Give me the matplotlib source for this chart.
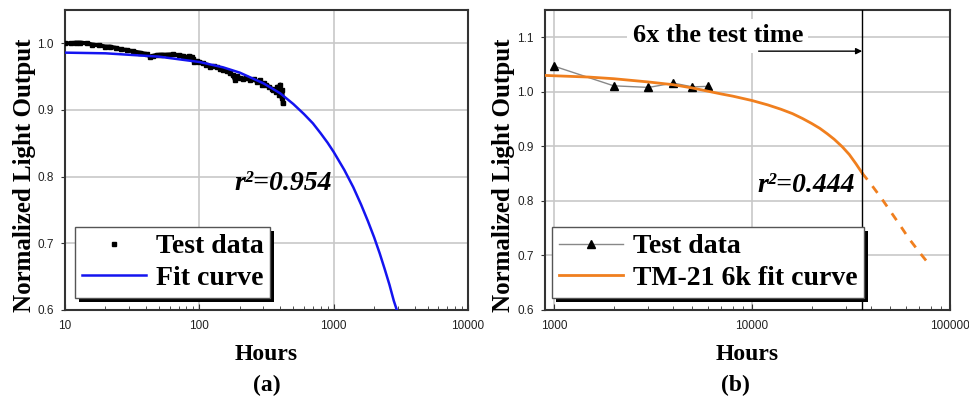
import matplotlib
matplotlib.use("Agg")
import matplotlib.pyplot as plt
from matplotlib.patches import Rectangle

# panel (a): LED test data and fit
a_test_hours = [10, 11, 12, 13, 14.5, 16, 18, 20, 21.6, 24, 26, 28.8, 32, 36, 40.5, 43, 45, 48,
                52, 58, 64, 70, 76, 80.5, 84, 86, 88, 90, 92, 96, 100, 107, 113, 120, 128,
                136, 142, 150, 160, 170, 178, 184, 190, 200, 212, 224, 240, 255, 270, 281,
                295, 305, 316, 330, 345, 355, 370, 380, 387, 395, 400, 405, 410, 414, 418]
a_test_output = [1.0, 1.0, 1.001, 1.001, 1.0, 0.998, 0.997, 0.995, 0.995, 0.993, 0.991, 0.99,
                 0.988, 0.986, 0.984, 0.98, 0.981, 0.9825, 0.983, 0.983, 0.9835, 0.982, 0.981,
                 0.979, 0.981, 0.978, 0.98, 0.976, 0.9725, 0.973, 0.972, 0.970, 0.968, 0.965,
                 0.966, 0.964, 0.962, 0.960, 0.958, 0.955, 0.952, 0.945, 0.951, 0.948, 0.947,
                 0.9475, 0.945, 0.946, 0.942, 0.945, 0.938, 0.940, 0.937, 0.935, 0.932, 0.930,
                 0.927, 0.934, 0.935, 0.922, 0.938, 0.925, 0.918, 0.93, 0.91]
a_fit_hours = [10, 20, 50, 100, 150, 200, 300, 400, 500, 600, 700, 800, 900, 1000, 1200,
               1400, 1600, 1800, 2000, 2200, 2400, 2600, 2800, 2950]
a_fit_output = [0.986, 0.985, 0.980, 0.972, 0.964, 0.956, 0.940, 0.925, 0.909, 0.894, 0.880,
                0.865, 0.851, 0.837, 0.810, 0.784, 0.758, 0.733, 0.709, 0.685, 0.661, 0.638,
                0.614, 0.600]

# panel (b): TM-21 projection
b_test_hours = [1000, 2000, 3000, 4000, 5000, 6000]
b_test_output = [1.047, 1.011, 1.008, 1.016, 1.009, 1.010]
b_fit_hours = [900, 1500, 2000, 3000, 4000, 5000, 6000, 7000, 8000, 10000, 12000, 14000,
               16000, 18000, 20000, 22000, 24000, 26000, 28600, 31000, 33500, 36000]
b_fit_output = [1.030, 1.027, 1.024, 1.018, 1.013, 1.007, 1.001, 0.996, 0.992, 0.984, 0.976,
                0.968, 0.960, 0.951, 0.942, 0.933, 0.923, 0.913, 0.899, 0.885, 0.868, 0.851]
b_proj_hours = [36000, 40000, 45000, 50000, 56000, 62000, 70000, 78700]
b_proj_output = [0.851, 0.830, 0.805, 0.781, 0.755, 0.731, 0.706, 0.683]
limit_hours = 36000

serif = "Liberation Serif"
sans = "Liberation Sans"

fig = plt.figure(figsize=(9.69, 3.99), dpi=100)
ax1 = fig.add_axes([0.0671, 0.2231, 0.4159, 0.7519])
ax2 = fig.add_axes([0.5624, 0.2231, 0.418, 0.7519])
ax1.set_xscale("log")
ax2.set_xscale("log")


def style(ax):
    ax.grid(True, which="major", color="#c8c8c8", lw=1.2)
    ax.set_axisbelow(True)
    for s in ax.spines.values():
        s.set_color("#333333")
        s.set_linewidth(1.5)
    ax.tick_params(axis="x", which="both", direction="in", length=4, pad=7,
                   labelsize=8.5, labelcolor="#222222", color="#333333")
    ax.tick_params(axis="x", which="minor", length=3)
    ax.tick_params(axis="y", direction="out", length=3, pad=5,
                   labelsize=8.5, labelcolor="#222222", color="#333333")
    for lab in ax.get_xticklabels() + ax.get_yticklabels():
        lab.set_family(sans)
    ax.set_ylabel("Normalized Light Output", fontsize=18, fontweight="bold", family=serif)
    ax.yaxis.set_label_coords(-0.073, 0.45)
    ax.set_xlabel("Hours", fontsize=17, fontweight="bold", family=serif, labelpad=9)


def shadow(ax, leg, off=4):
    fig.canvas.draw()
    bb = leg.get_window_extent().transformed(ax.transAxes.inverted())
    w, h = ax.bbox.width, ax.bbox.height
    ax.add_patch(Rectangle((bb.x0 + off / w, bb.y0 - off / h), bb.width, bb.height,
                           transform=ax.transAxes, facecolor="black", edgecolor="none",
                           zorder=4.9, clip_on=False))


legend_kw = dict(loc="lower left", prop={"family": serif, "weight": "bold", "size": 20},
                 frameon=True, fancybox=False, framealpha=1, edgecolor="#555555",
                 handlelength=2.3, handletextpad=0.35, labelspacing=0.22, borderpad=0.25,
                 borderaxespad=0)

# (a)
ax1.plot(a_test_hours, a_test_output, color="black", lw=3, marker="s", ms=2.5, zorder=3)
ax1.plot(a_fit_hours, a_fit_output, color="#1414f0", lw=1.8, zorder=4)
ax1.set_xlim(10, 10000)
ax1.set_ylim(0.6, 1.05)
ax1.set_yticks([0.6, 0.7, 0.8, 0.9, 1.0])
ax1.set_xticks([10, 100, 1000, 10000])
ax1.set_xticklabels(["10", "100", "1000", "10000"])
style(ax1)
ax1.text(184, 0.79, "r\u00b2=0.954", fontsize=20, fontweight="bold", style="italic",
         family=serif, ha="left", va="center")
h1 = ax1.plot([], [], ls="none", marker="s", ms=3.5, color="black")[0]
h2 = ax1.plot([], [], color="#1414f0", lw=1.8)[0]
leg1 = ax1.legend([h1, h2], ["Test data", "Fit curve"], bbox_to_anchor=(0.025, 0.04),
                  **legend_kw)
leg1.get_frame().set_linewidth(1)

# (b)
ax2.plot(b_test_hours, b_test_output, color="#888888", lw=1, marker="^", ms=6,
         mfc="black", mec="black", zorder=3)
ax2.plot(b_fit_hours, b_fit_output, color="#f07f1e", lw=2, zorder=4)
ax2.plot(b_proj_hours, b_proj_output, color="#f07f1e", lw=2, ls=(0, (3, 3)), zorder=4)
ax2.axvline(limit_hours, color="black", lw=1, zorder=4)
ax2.set_xlim(900, 100000)
ax2.set_ylim(0.6, 1.15)
ax2.set_yticks([0.6, 0.7, 0.8, 0.9, 1.0, 1.1])
ax2.set_xticks([1000, 10000, 100000])
ax2.set_xticklabels(["1000", "10000", "100000"])
style(ax2)
ax2.text(6710, 1.103, "6x the test time", fontsize=19, fontweight="bold", family=serif,
         ha="center", va="center", bbox=dict(facecolor="white", edgecolor="none", pad=4))
ax2.annotate("", xy=(limit_hours, 1.0745), xytext=(10800, 1.0745),
             arrowprops=dict(arrowstyle="-|>", color="black", lw=1, mutation_scale=9,
                             shrinkA=0, shrinkB=0))
ax2.text(33000, 0.829, "r\u00b2=0.444", fontsize=20, fontweight="bold", style="italic",
         family=serif, ha="right", va="center")
g1 = ax2.plot([], [], color="#888888", lw=1, marker="^", ms=6, mfc="black", mec="black")[0]
g2 = ax2.plot([], [], color="#f07f1e", lw=2)[0]
leg2 = ax2.legend([g1, g2], ["Test data", "TM-21 6k fit curve"], bbox_to_anchor=(0.018, 0.04),
                  **legend_kw)
leg2.get_frame().set_linewidth(1)

fig.text(0.2753, 0.02, "(a)", fontsize=17, fontweight="bold", family=serif, ha="center")
fig.text(0.7585, 0.02, "(b)", fontsize=17, fontweight="bold", family=serif, ha="center")

shadow(ax1, leg1)
shadow(ax2, leg2)

fig.savefig("out.png", dpi=100)
